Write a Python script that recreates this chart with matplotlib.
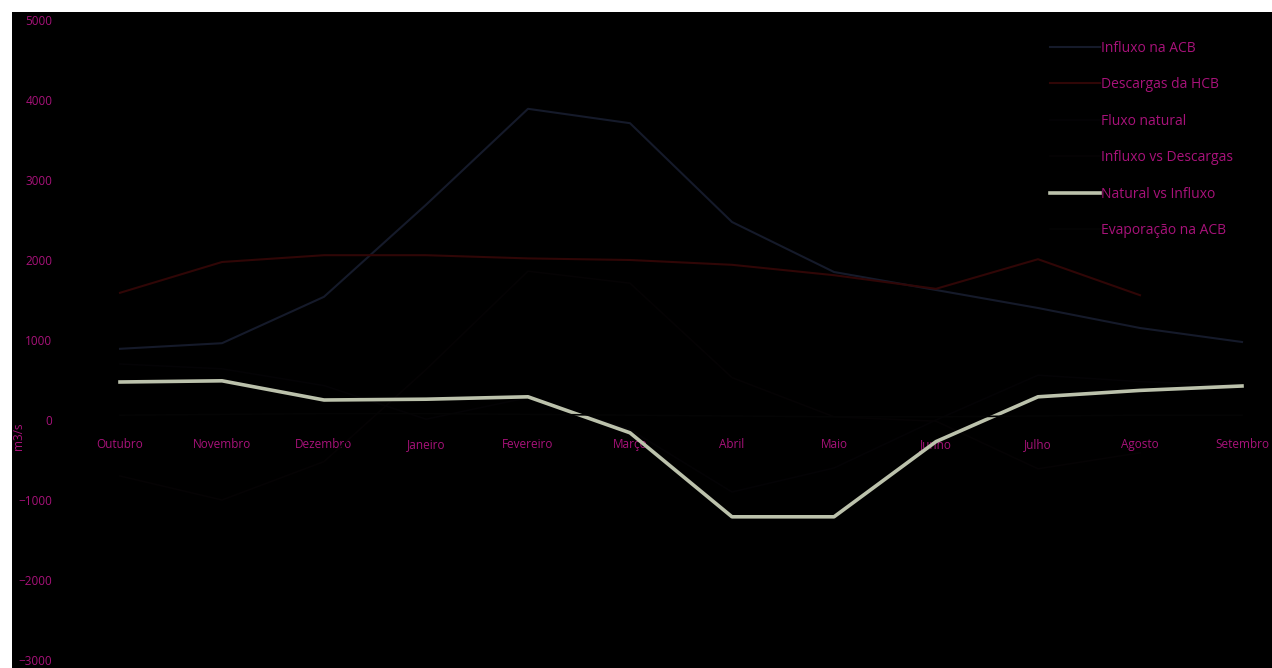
import numpy as np
import matplotlib
matplotlib.use("Agg")
import matplotlib.pyplot as plt
from matplotlib.patches import Rectangle

meses = ["Outubro", "Novembro", "Dezembro", "Janeiro", "Fevereiro", "Março",
         "Abril", "Maio", "Junho", "Julho", "Agosto", "Setembro"]

# m3/s
influxo_acb = [890, 960, 1540, 2690, 3890, 3710, 2475, 1850, 1625, 1400, 1150, 975]
descargas_hcb = [1590, 1975, 2060, 2060, 2020, 2000, 1940, 1810, 1640, 2010, 1560, np.nan]
fluxo_natural = [700, 640, 430, 10, 280, -120, -900, -600, 0, 560, 480, 430]
influxo_vs_descargas = [-700, -1000, -520, 630, 1860, 1710, 530, 40, -15, -610, -410, np.nan]
natural_vs_influxo = [475, 490, 250, 260, 290, -160, -1210, -1210, -270, 290, 370, 425]
evaporacao_acb = [60, 70, 80, 80, 70, 60, 50, 40, 40, 50, 60, 60]

cor_texto = "#a8127a"

plt.rcParams["font.family"] = ["Open Sans", "DejaVu Sans"]

fig = plt.figure(figsize=(12.72, 6.68), dpi=100, facecolor="white")
# fundo preto (margem branca em cima e à esquerda)
fig.patches.append(Rectangle((12 / 1272, 0), 1, 656 / 668, transform=fig.transFigure,
                             facecolor="black", edgecolor="none", zorder=-10))

ax = fig.add_axes([69 / 1272, 8 / 668, 1224 / 1272, 640 / 668])
ax.set_facecolor("none")
ax.set_zorder(5)

x = np.arange(len(meses))
ax.plot(x, influxo_acb, color="#151a2a", lw=1.5, label="Influxo na ACB")
ax.plot(x, descargas_hcb, color="#300606", lw=1.5, label="Descargas da HCB")
ax.plot(x, fluxo_natural, color="#040305", lw=1.2, label="Fluxo natural")
ax.plot(x, influxo_vs_descargas, color="#050304", lw=1.2, label="Influxo vs Descargas")
ax.plot(x, natural_vs_influxo, color="#bcc2ac", lw=2.6, label="Natural vs Influxo")
ax.plot(x, evaporacao_acb, color="#040404", lw=1.2, label="Evaporação na ACB")

ax.set_xlim(-0.5, len(meses) - 0.5)
ax.set_ylim(-3000, 5000)
ax.set_yticks(range(-3000, 5001, 1000))
ax.set_xticks(x)
ax.set_xticklabels(meses)

for s in ax.spines.values():
    s.set_visible(False)
ax.spines["bottom"].set_position(("data", 0))
ax.tick_params(axis="both", length=0, colors=cor_texto, labelsize=8.5)
ax.tick_params(axis="x", pad=13)
ax.tick_params(axis="y", pad=12)

ax.set_ylabel("m3/s", color=cor_texto, fontsize=8.5)
ax.yaxis.set_label_coords(-0.036, 0.35)

leg = ax.legend(loc="upper left", bbox_to_anchor=(1037 / 1272, 1 - 28 / 668),
                bbox_transform=fig.transFigure, frameon=False, fontsize=10,
                handlelength=3.6, labelspacing=1.55, handletextpad=0.1)
for t in leg.get_texts():
    t.set_color(cor_texto)

fig.savefig("out.png", dpi=100, facecolor="white")
